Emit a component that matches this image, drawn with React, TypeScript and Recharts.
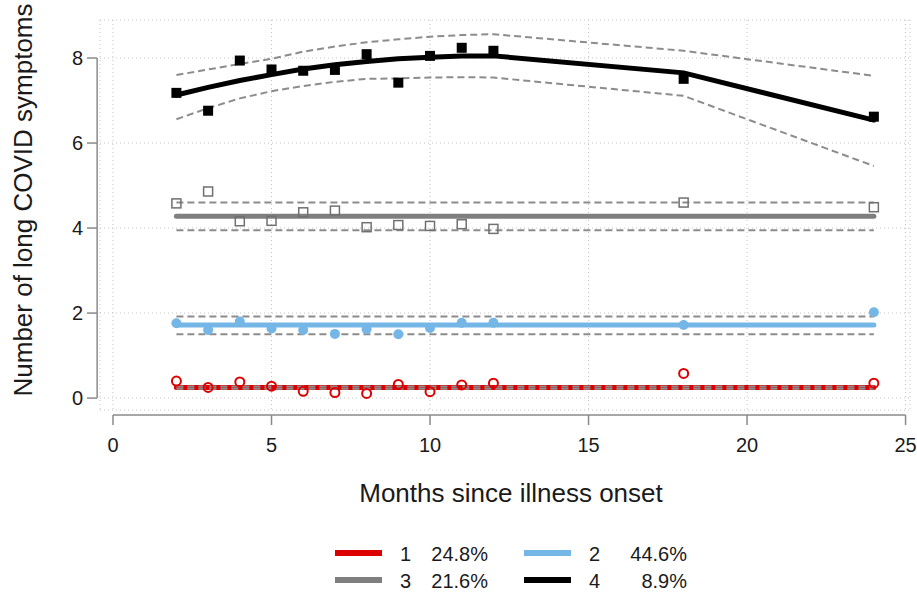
import { ComposedChart, Line, Scatter, XAxis, YAxis, CartesianGrid, ReferenceLine } from 'recharts';

const months = [2, 3, 4, 5, 6, 7, 8, 9, 10, 11, 12, 18, 24];

// class 1 (red)
const obs1 = [0.4, 0.25, 0.38, 0.28, 0.16, 0.13, 0.11, 0.32, 0.15, 0.31, 0.35, 0.58, 0.35];
const fit1 = [0.25, 0.25, 0.25, 0.25, 0.25, 0.25, 0.25, 0.25, 0.25, 0.25, 0.25, 0.25, 0.25];
const lo1 = [0.22, 0.22, 0.22, 0.22, 0.22, 0.22, 0.22, 0.22, 0.22, 0.22, 0.22, 0.22, 0.22];
const hi1 = [0.27, 0.27, 0.27, 0.27, 0.27, 0.27, 0.27, 0.27, 0.27, 0.27, 0.27, 0.27, 0.27];

// class 2 (blue)
const obs2 = [1.76, 1.6, 1.8, 1.64, 1.6, 1.51, 1.62, 1.5, 1.65, 1.77, 1.77, 1.72, 2.02];
const fit2 = [1.72, 1.72, 1.72, 1.72, 1.72, 1.72, 1.72, 1.72, 1.72, 1.72, 1.72, 1.72, 1.72];
const lo2 = [1.5, 1.5, 1.5, 1.5, 1.5, 1.5, 1.5, 1.5, 1.5, 1.5, 1.5, 1.5, 1.5];
const hi2 = [1.92, 1.92, 1.92, 1.92, 1.92, 1.92, 1.92, 1.92, 1.92, 1.92, 1.92, 1.92, 1.92];

// class 3 (grey)
const obs3 = [4.58, 4.86, 4.16, 4.17, 4.37, 4.41, 4.02, 4.07, 4.05, 4.09, 3.98, 4.6, 4.49];
const fit3 = [4.28, 4.28, 4.28, 4.28, 4.28, 4.28, 4.28, 4.28, 4.28, 4.28, 4.28, 4.28, 4.28];
const lo3 = [3.95, 3.95, 3.95, 3.95, 3.95, 3.95, 3.95, 3.95, 3.95, 3.95, 3.95, 3.95, 3.95];
const hi3 = [4.6, 4.6, 4.6, 4.6, 4.6, 4.6, 4.6, 4.6, 4.6, 4.6, 4.6, 4.6, 4.6];

// class 4 (black)
const obs4 = [7.18, 6.76, 7.94, 7.73, 7.7, 7.72, 8.09, 7.42, 8.05, 8.24, 8.17, 7.51, 6.62];
const fit4 = [7.13, 7.31, 7.47, 7.61, 7.74, 7.84, 7.92, 7.98, 8.02, 8.05, 8.05, 7.65, 6.54];
const lo4 = [6.56, 6.82, 7.05, 7.22, 7.34, 7.44, 7.51, 7.52, 7.54, 7.55, 7.54, 7.11, 5.46];
const hi4 = [7.6, 7.73, 7.86, 7.98, 8.15, 8.27, 8.37, 8.44, 8.5, 8.54, 8.56, 8.17, 7.58];

const xTicks = [0, 5, 10, 15, 20, 25];
const yTicks = [0, 2, 4, 6, 8];

const legendItems = [
  { label: '1', share: '24.8%', color: '#dd0000' },
  { label: '2', share: '44.6%', color: '#74b6e6' },
  { label: '3', share: '21.6%', color: '#7f7f7f' },
  { label: '4', share: '8.9%', color: '#000000' },
];

const data = months.map((m, i) => ({
  month: m,
  obs1: obs1[i], fit1: fit1[i], lo1: lo1[i], hi1: hi1[i],
  obs2: obs2[i], fit2: fit2[i], lo2: lo2[i], hi2: hi2[i],
  obs3: obs3[i], fit3: fit3[i], lo3: lo3[i], hi3: hi3[i],
  obs4: obs4[i], fit4: fit4[i], lo4: lo4[i], hi4: hi4[i],
}));

const FONT = '"Liberation Sans", Arial, sans-serif';
const AXIS = '#8a8a8a';
const CI = '#8c8c8c';
const TEXT = '#1a1a1a';

const XTick = ({ x, y, payload }: any) => (
  <g>
    <line x1={x} x2={x} y1={y + 5} y2={y + 15} stroke={AXIS} strokeWidth={1.5} />
    <text x={x} y={y + 42} textAnchor="middle" fontSize={20} fill={TEXT} fontFamily={FONT}>
      {payload.value}
    </text>
  </g>
);

const YTick = ({ x, y, payload }: any) => (
  <g>
    <line x1={x - 13} x2={x - 3} y1={y} y2={y} stroke={AXIS} strokeWidth={1.5} />
    <text x={x - 17} y={y + 7} textAnchor="end" fontSize={20} fill={TEXT} fontFamily={FONT}>
      {payload.value}
    </text>
  </g>
);

const FilledSquare = ({ cx, cy }: any) => <rect x={cx - 5} y={cy - 5} width={10} height={10} fill="#000" />;
const OpenSquare = ({ cx, cy }: any) => (
  <rect x={cx - 4.5} y={cy - 4.5} width={9} height={9} fill="none" stroke="#707070" strokeWidth={1.5} />
);
const FilledCircle = ({ cx, cy }: any) => <circle cx={cx} cy={cy} r={5} fill="#74b6e6" />;
const OpenCircle = ({ cx, cy }: any) => (
  <circle cx={cx} cy={cy} r={4.5} fill="none" stroke="#dd0000" strokeWidth={2} />
);

function ciLine(key: string) {
  return (
    <Line
      key={key}
      dataKey={key}
      type="linear"
      stroke={CI}
      strokeWidth={2}
      strokeDasharray="7 4"
      dot={false}
      activeDot={false}
      isAnimationActive={false}
    />
  );
}

function fitLine(key: string, color: string) {
  return (
    <Line
      key={key}
      dataKey={key}
      type="linear"
      stroke={color}
      strokeWidth={5}
      strokeLinecap="round"
      dot={false}
      activeDot={false}
      isAnimationActive={false}
    />
  );
}

export default function App() {
  return (
    <div style={{ position: 'absolute', left: 0, top: 0, width: 917, height: 593, background: '#fff' }}>
      <ComposedChart width={917} height={593} data={data} margin={{ top: 20, right: 7, bottom: 0, left: 40 }}>
        <CartesianGrid stroke="#c4c4c4" strokeDasharray="1 3" />
        <XAxis
          dataKey="month"
          type="number"
          domain={[-0.41, 25.14]}
          ticks={xTicks}
          allowDataOverflow
          height={183}
          axisLine={false}
          tickLine={false}
          tickSize={0}
          tickMargin={0}
          tick={<XTick />}
          interval={0}
        />
        <YAxis
          type="number"
          domain={[-0.28, 8.894]}
          ticks={yTicks}
          allowDataOverflow
          width={60}
          axisLine={false}
          tickLine={false}
          tickSize={0}
          tickMargin={0}
          tick={<YTick />}
          interval={0}
        />
        <ReferenceLine segment={[{ x: -0.5, y: 0 }, { x: -0.5, y: 8 }]} ifOverflow="visible" stroke={AXIS} strokeWidth={1.5} />
        <ReferenceLine segment={[{ x: 0, y: -0.4 }, { x: 25, y: -0.4 }]} ifOverflow="visible" stroke={AXIS} strokeWidth={1.5} />

        <Scatter dataKey="obs1" shape={<OpenCircle />} isAnimationActive={false} />
        <Scatter dataKey="obs2" shape={<FilledCircle />} isAnimationActive={false} />
        <Scatter dataKey="obs3" shape={<OpenSquare />} isAnimationActive={false} />
        <Scatter dataKey="obs4" shape={<FilledSquare />} isAnimationActive={false} />

        {fitLine('fit1', '#dd0000')}
        {fitLine('fit2', '#74b6e6')}
        {fitLine('fit3', '#7f7f7f')}
        {fitLine('fit4', '#000000')}

        {ciLine('lo1')}
        {ciLine('hi1')}
        {ciLine('lo2')}
        {ciLine('hi2')}
        {ciLine('lo3')}
        {ciLine('hi3')}
        {ciLine('lo4')}
        {ciLine('hi4')}
      </ComposedChart>

      <svg
        width={917}
        height={593}
        style={{ position: 'absolute', left: 0, top: 0, pointerEvents: 'none' }}
        fontFamily={FONT}
        fill={TEXT}
      >
        <text x={32} y={200} transform="rotate(-90 32 200)" textAnchor="middle" fontSize={26}>
          Number of long COVID symptoms
        </text>
        <text x={511} y={502} textAnchor="middle" fontSize={26}>
          Months since illness onset
        </text>
        {legendItems.map((item, i) => {
          const col = i % 2;
          const row = Math.floor(i / 2);
          const x0 = col === 0 ? 335 : 524;
          const cy = row === 0 ? 553 : 580;
          const shareEnd = col === 0 ? 488 : 687;
          return (
            <g key={item.label}>
              <line x1={x0} x2={x0 + 47} y1={cy} y2={cy} stroke={item.color} strokeWidth={6} />
              <text x={x0 + 65} y={cy + 8} fontSize={20}>
                {item.label}
              </text>
              <text x={shareEnd} y={cy + 8} fontSize={20} textAnchor="end">
                {item.share}
              </text>
            </g>
          );
        })}
      </svg>
    </div>
  );
}
